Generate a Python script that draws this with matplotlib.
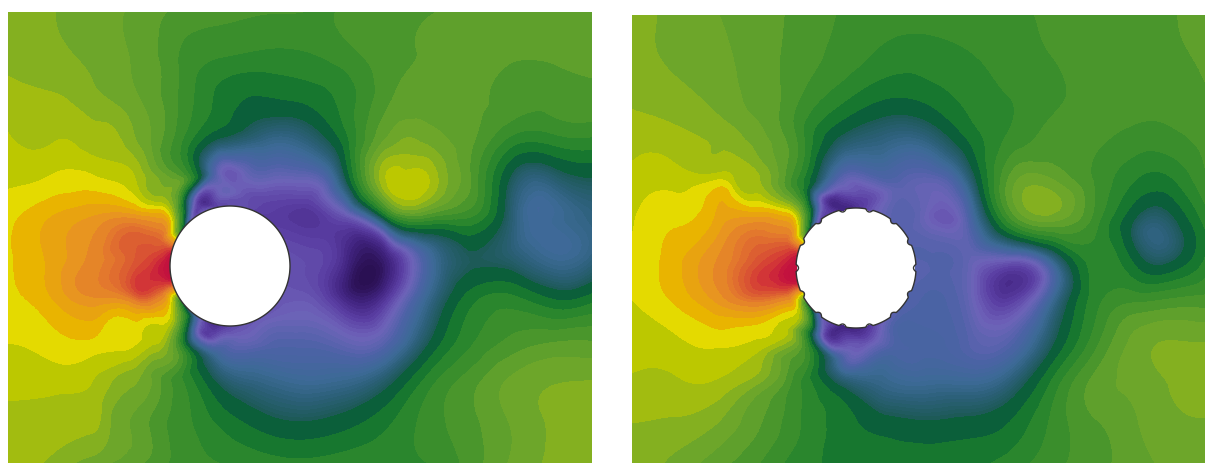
#pressure field round a cylinder, plain and with notches
import numpy as np
import matplotlib
matplotlib.use("Agg")
import matplotlib.pyplot as plt
import matplotlib.tri as mtri
from matplotlib.colors import LinearSegmentedColormap, Normalize
from matplotlib.patches import Polygon

n = np.nan

ring_angles = np.arange(0, 360, 20)
ring_radii = [60, 75, 95]

#left panel, values
left_center = (230, 266)
left_x = [8, 50, 92, 134, 176, 218, 260, 302, 344, 386, 428, 470, 512, 554, 592]
left_y = [12, 53, 94, 135, 176, 217, 258, 299, 340, 381, 422, 463]
left_grid = [
    [1.44, 1.07, .47, -.21, -1.25, -1.75, -1.95, -2.0, -1.95, -1.4, -1.05, -.8, -.6, -.5, -.5],
    [1.65, 1.25, .71, -.15, -1.9, -2.8, -3.15, -3.1, -2.4, -1.45, -.9, -.65, -.85, -.8, -.7],
    [2.36, 2.05, 1.2, .1, -1.9, -4.2, -4.95, -4.6, -3.6, -1.4, -.6, -.7, -1.4, -1.5, -1.2],
    [3.03, 2.74, 2.3, 1.0, -2.2, -5.6, -7.0, -7.0, -4.4, -.2, .4, -.75, -3.0, -3.1, -2.9],
    [3.75, 4.0, 4.05, 3.0, -.8, n, n, -9.6, -6.3, 3.0, 3.0, -1.0, -6.2, -6.7, -5.9],
    [4.65, 5.95, 7.0, 7.5, n, n, n, n, -10.5, -5.0, -2.0, -3.0, -7.0, -8.0, -7.3],
    [4.9, 6.2, 8.3, n, n, n, n, n, -11.7, -12.2, -8.5, -6.2, -6.8, -7.9, -7.3],
    [4.7, 5.85, 7.75, 9.1, n, n, n, n, -11.8, -11.3, -7.8, -4.5, -3.7, -5.1, -4.5],
    [4.05, 4.5, 4.9, 4.2, n, n, n, -9.2, -9.7, -9.4, -6.3, -3.3, -1.8, -1.2, -1.1],
    [3.4, 3.4, 3.0, 1.1, -2.4, -6.3, -7.5, -8.0, -7.8, -6.6, -3.6, -1.5, .2, .9, 1.0],
    [2.7, 2.6, 2.2, -.2, -2.4, -4.2, -5.5, -6.0, -5.5, -4.3, -2.6, -1.3, .1, 1.2, 1.8],
    [2.4, 1.8, .5, -.75, -2.3, -3.0, -3.5, -3.8, -3.5, -3.2, -3.0, -1.6, .15, 1.2, 1.6],
]
left_rings = [
    [-10.5, -10.7, -11, -11, -10.5, -10.8, -10.5, -6.5, 9, 14, 9, -6, -10, -11.5, -10.5, -10.3, -10.3, -10.4],
    [-10.6, -10.9, -11.2, -10.8, -10.3, -10.2, -9.5, 3, 10, 12, 10, 3, -8.5, -10.1, -9.8, -9.6, -10, -10.4],
    [-10.9, -11.1, -11.1, -10.1, -9.7, -9, -1, 3.6, 10, 10.7, 10, 3.8, -3.2, -7.5, -8.6, -9.0, -9.6, -10.6],
]
left_extra_x = [368, 403, 548, 480, 403, 408, 408, 380, 438,
                93, 130, 150, 160, 178, 67, 117, 67, 117, 67, 117,
                67, 100, 110, 138, 129, 150, 160, 170, 75, 125, 158]
left_extra_y = [278, 183, 227, 258, 205, 155, 138, 180, 180,
                83, 67, 133, 67, 67, 100, 133, 140, 163, 170, 183,
                393, 420, 420, 380, 422, 375, 380, 380, 363, 350, 323]
left_extra_v = [-13.2, 3.6, -8.1, -6.2, 2.0, 2.0, 1.0, 2.0, 2.0,
                1, 0, 0, -1, -2, 2, 2, 3, 3, 4, 4,
                3, 2, 1, 1, 0, 0, -1, -2, 4, 4, 4]

#right panel
right_center = (856, 268)
right_x = [632, 674, 716, 758, 800, 842, 884, 926, 968, 1010, 1052, 1094, 1136, 1178, 1205]
right_y = [15, 56, 97, 138, 179, 220, 261, 302, 343, 384, 425, 463]
right_grid = [
    [1.2, .8, .05, -.6, -1.3, -2.1, -2.4, -2.5, -2.3, -2.2, -1.8, -1.4, -1.2, -1.0, -.7],
    [1.3, .85, .3, -.5, -1.5, -2.4, -3.3, -3.5, -3.1, -2.6, -2.0, -1.5, -1.3, -1.1, -.9],
    [1.8, 1.3, .7, -.45, -2.0, -3.7, -4.9, -4.7, -3.7, -3.0, -2.3, -1.6, -1.6, -1.4, -1.1],
    [2.5, 2.35, 1.8, .4, -2.5, -6.3, -7.2, -7.2, -4.9, -2.8, -1.6, -1.7, -2.4, -2.2, -1.7],
    [3.3, 3.65, 3.75, 2.1, -3.5, n, n, -9.5, -7.3, -.8, -.05, -2.1, -4.0, -3.8, -2.2],
    [3.9, 4.8, 6.15, 7.5, n, n, n, n, -9.2, -2.5, .2, -2.4, -6.2, -5.9, -3.7],
    [4.15, 5.55, 7.95, n, n, n, n, n, -9.6, -10.3, -8.0, -3.5, -5.4, -5.8, -3.9],
    [3.95, 5.05, 7.0, 8.9, n, n, n, n, -9.6, -11, -8, -3.5, -2.1, -1.6, -1.5],
    [3.4, 3.7, 4.2, 3.8, n, n, n, -8.7, -9.2, -9.2, -6.3, -2.5, .4, 1.05, 1.0],
    [2.8, 2.8, 2.8, .95, -3.0, -6.4, -7.6, -7.9, -7.9, -7.0, -3.8, -.7, .3, 1.2, 1.4],
    [1.95, 1.75, .95, -.9, -3.0, -4.5, -5.5, -5.8, -5.6, -4.9, -2.8, -1.2, -.1, .8, .9],
    [1.7, .75, -.55, -1.95, -3.6, -4.1, -4.3, -4.4, -4.3, -3.6, -2.4, -1.4, -.4, .3, .5],
]
right_rings = [
    [-9.3, -9.2, -9.3, -9.6, -10.8, -12, -11, -6.5, 9, 14, 9, -6, -10.5, -12, -11.5, -9.8, -9.2, -9.2],
    [-9.2, -9.3, -9.4, -9.5, -10.6, -10.8, -9.5, 3, 10, 12.4, 10, 3, -9, -10.8, -10.4, -9, -8.9, -9],
    [-9.2, -9.7, -9.9, -9.4, -9, -9, -5.2, 3.3, 9.3, 11.3, 9, 3.5, -3, -8.5, -8.7, -8.8, -8.8, -9],
]
right_extra_x = [933, 1000, 1153, 1038,
                 720, 760, 753, 775, 780, 788, 793, 670, 737, 670, 737, 689, 732, 775,
                 709, 752, 789, 720, 760, 700, 760, 720, 770, 745, 780, 770, 790, 785]
right_extra_y = [217, 293, 230, 202,
                 117, 160, 117, 160, 100, 150, 117, 123, 157, 160, 187, 190, 188, 207,
                 348, 340, 317, 377, 350, 410, 370, 420, 370, 410, 370, 400, 360, 400]
right_extra_v = [-10.2, -11.4, -7.3, 1.7,
                 1, 1, 0, 0, -1, -1, -2, 2, 2, 3, 3, 4, 4, 4,
                 4, 4, 4, 3, 3, 2, 2, 1, 1, 0, 0, -1, -1, -2]
notch_angles = np.arange(14) * 360 / 14

#colour for each value of the field
color_v = [-14, -13, -12, -11, -10, -9, -8, -7, -6.1, -5.5, -4.5, -3.5, -2.5, -1.5, -.5,
           .5, 1.5, 2.5, 3.5, 4.5, 5.5, 6.5, 7.5, 8.5, 9.5, 10.5, 11.5, 13, 15]
color_hex = ['#220a45', '#2b1155', '#41237f', '#5a3ea3', '#6e63b9', '#4c62a6', '#3c6a96', '#2a5f75',
             '#1d5a57', '#0b5f3a', '#17782f', '#2a862d', '#3a8e2c', '#4a962c', '#5fa02c',
             '#6ca62a', '#84b020', '#a2bc10', '#bdc800', '#e4da00', '#e9b400', '#e8a310', '#e89520',
             '#e58628', '#e2742e', '#da5a32', '#d53c35', '#c4123e', '#c00f3f']

vmin, vmax = color_v[0], color_v[-1]
stops = [(v - vmin) / (vmax - vmin) for v in color_v]
cmap = LinearSegmentedColormap.from_list('pressure', list(zip(stops, color_hex)), N=512)
norm = Normalize(vmin, vmax)

levels = np.concatenate([np.arange(-15, -6, .2), np.arange(-6, 9, 1.), np.arange(9, 16, .5)])
band_colors = [cmap(norm((a + b) / 2)) for a, b in zip(levels[:-1], levels[1:])]


def draw_panel(ax, center, xs, ys, grid, rings, ex, ey, ev):
    gx, gy = np.meshgrid(xs, ys)
    grid = np.array(grid, dtype=float)
    keep = ~np.isnan(grid)
    px = list(gx[keep])
    py = list(gy[keep])
    pv = list(grid[keep])

    t = np.radians(ring_angles)
    for r, vals in zip(ring_radii, rings):
        px += list(center[0] + r * np.cos(t))
        py += list(center[1] - r * np.sin(t))
        pv += list(vals)
    px += ex
    py += ey
    pv += ev
    px = np.array(px, dtype=float)
    py = np.array(py, dtype=float)
    pv = np.array(pv, dtype=float)

    tri = mtri.Triangulation(px, py)
    cx = px[tri.triangles].mean(axis=1)
    cy = py[tri.triangles].mean(axis=1)
    tri.set_mask(np.hypot(cx - center[0], cy - center[1]) < 58)

    interp = mtri.CubicTriInterpolator(tri, pv)
    refiner = mtri.UniformTriRefiner(tri)
    fine_tri, fine_v = refiner.refine_field(pv, triinterpolator=interp, subdiv=3)

    cs = ax.tricontourf(fine_tri, fine_v, levels=levels, colors=band_colors, extend='both')
    cs.set_edgecolor('face')
    cs.set_linewidth(.3)

    ax.set_xlim(xs[0], xs[-1])
    ax.set_ylim(ys[-1], ys[0])
    ax.axis('off')


W, H = 1205, 463
fig = plt.figure(figsize=(W / 100, H / 100), dpi=100)
ax1 = fig.add_axes([8 / W, 0, (592 - 8) / W, (463 - 12) / H])
ax2 = fig.add_axes([632 / W, 0, (1205 - 632) / W, (463 - 15) / H])

draw_panel(ax1, left_center, left_x, left_y, left_grid, left_rings, left_extra_x, left_extra_y, left_extra_v)
draw_panel(ax2, right_center, right_x, right_y, right_grid, right_rings, right_extra_x, right_extra_y, right_extra_v)

#plain cylinder
th = np.radians(np.arange(0, 360, 1.))
ax1.add_patch(Polygon(np.c_[left_center[0] + 60 * np.cos(th), left_center[1] - 60 * np.sin(th)],
                      facecolor='white', edgecolor='#333333', lw=1, zorder=5))

#cylinder with notches
deg = np.arange(0, 360, .5)
rad = np.full(deg.shape, 60.)
for a in notch_angles:
    d = np.abs((deg - a + 180) % 360 - 180)
    rad[d < 3.5] -= 2.5 * (1 - (d[d < 3.5] / 3.5) ** 2)
th = np.radians(deg)
ax2.add_patch(Polygon(np.c_[right_center[0] + rad * np.cos(th), right_center[1] - rad * np.sin(th)],
                      facecolor='white', edgecolor='#333333', lw=1, zorder=5))

fig.savefig('out.png', dpi=100, facecolor='white')
